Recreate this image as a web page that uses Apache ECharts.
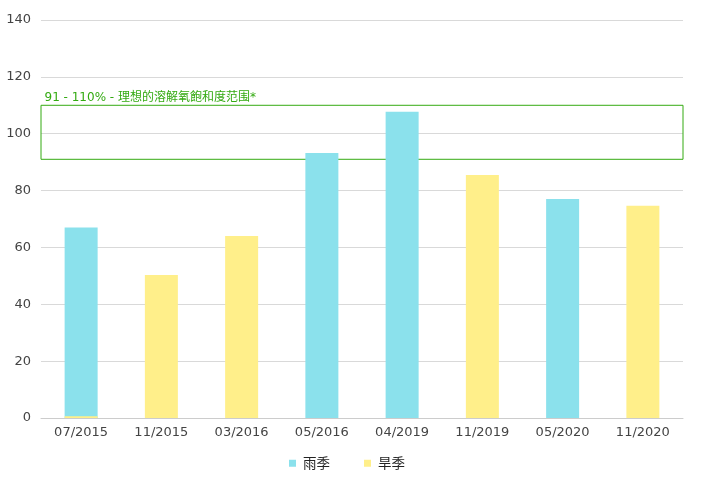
<!DOCTYPE html>
<html><head><meta charset="utf-8">
<script src="https://cdn.jsdelivr.net/npm/echarts@6/dist/echarts.min.js"></script>
<style>html,body{margin:0;padding:0;background:#fff}#c{width:702px;height:498px}</style>
</head><body><div id="c"></div>
<script>
const categories = ['07/2015','11/2015','03/2016','05/2016','04/2019','11/2019','05/2020','11/2020'];
const rainy = [67, null, null, 93.2, 107.7, null, 77, null];
const dry = [0.6, 50.3, 64, null, null, 85.5, null, 74.7];
const idealRange = [91, 110];
const idealLabel = '91 - 110% - 理想的溶解氧飽和度范围*';
const yTicks = {min: 0, max: 140, interval: 20};

const chart = echarts.init(document.getElementById('c'));
chart.setOption({
  animation: false,
  grid: {left: 41, right: 19, top: 20, bottom: 80},
  legend: {
    data: ['雨季','旱季'], bottom: 23, left: 284, itemWidth: 7, itemHeight: 7, itemGap: 34,
    icon: 'rect',
    textStyle: {color: '#222', fontSize: 13.5, fontFamily: 'Noto Sans CJK SC', padding: [0, 0, 0, 2]}
  },
  xAxis: {
    type: 'category', data: categories,
    axisLine: {lineStyle: {color: '#ccc'}}, axisTick: {show: false},
    axisLabel: {color: '#444', fontSize: 13, margin: 8, fontFamily: 'DejaVu Sans'}
  },
  yAxis: {
    type: 'value', min: yTicks.min, max: yTicks.max, interval: yTicks.interval,
    axisLine: {show: false}, axisTick: {show: false},
    splitLine: {lineStyle: {color: '#d9d9d9'}},
    axisLabel: {color: '#444', fontSize: 13, margin: 10, fontFamily: 'DejaVu Sans'}
  },
  series: [
    {name: '雨季', type: 'bar', data: rainy, barWidth: 33, barGap: '-100%',
     itemStyle: {color: '#8be1ec'},
     markArea: {
       silent: true,
       itemStyle: {color: 'rgba(0,0,0,0)', borderColor: '#33aa11', borderWidth: 1},
       label: {show: true, position: [4, -13], color: '#33aa11', fontSize: 12, fontFamily: 'DejaVu Sans, Noto Sans CJK SC'},
       data: [[{yAxis: idealRange[0], name: idealLabel}, {yAxis: idealRange[1]}]]
     }},
    {name: '旱季', type: 'bar', data: dry, barWidth: 33, barGap: '-100%',
     itemStyle: {color: '#ffef8a'}}
  ]
});
</script></body></html>
